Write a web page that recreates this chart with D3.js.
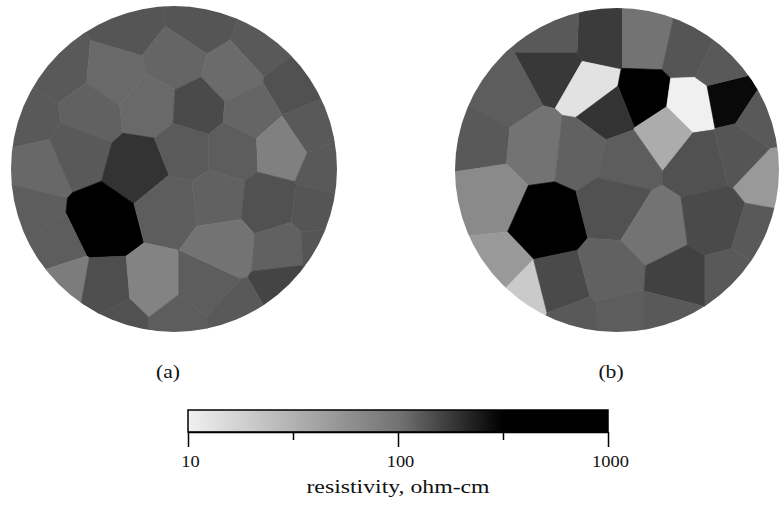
<!DOCTYPE html>
<html>
<head>
<meta charset="utf-8">
<script src="https://cdn.jsdelivr.net/npm/d3@7"></script>
<style>
  body { margin: 0; background: #fff; }
  text { font-family: "Liberation Serif", "DejaVu Serif", serif; fill: #111; }
</style>
</head>
<body>
<div id="chart"></div>
<script>
// measurement sites in wafer coordinates (mm, y up) and resistivity (ohm-cm)
var siteA_x = [-13.5, 8.0, 27.9, -35.0, -18.1, 0.3, 17.8, 37.1, -44.2, -25.8, -7.4, 7.4, 23.3, 42.3, -41.1, -30.4, -10.4, 3.4, 17.8, 33.1, 47.2, -44.8, -21.8, -1.2, 13.5, 28.8, 44.2, -38.0, -34.4, -20.9, -6.7, 9.5, 15.6, 33.1, 45.4, 34.4, -16.6, 1.2, 18.7];
var siteA_y = [44.2, 45.1, 38.0, 30.4, 28.8, 33.4, 28.8, 25.8, 15.0, 17.5, 19.6, 18.7, 17.5, 12.6, 1.2, 5.8, 0.3, 5.8, 5.8, 6.4, 0.3, -14.1, -16.3, -11.0, -9.5, -11.0, -13.2, -24.2, -35.3, -37.7, -36.5, -36.5, -23.3, -24.8, -24.2, -35.6, -46.9, -46.9, -44.8];
var rhoA = [135, 135, 130, 130, 110, 115, 108, 140, 130, 120, 110, 150, 115, 130, 112, 130, 190, 128, 125, 78, 130, 125, 700, 125, 120, 140, 135, 125, 85, 145, 75, 125, 100, 120, 135, 160, 140, 125, 130];

var siteB_x = [-5.2, 8.6, 22.5, -19.1, -19.1, -8.3, 8.0, -2.8, 23.1, 14.8, 34.3, 44.7, -34.6, -42.3, -24.7, -11.4, 2.5, 25.6, 47.2, -39.8, -21.3, -0.6, 11.7, 30.2, 44.1, -37.6, -29.3, -17.0, -2.2, 19.4, 34.9, 0.9, -13.0, 16.4, 31.8, 38.0];
var siteB_y = [40.1, 40.1, 37.0, 40.7, 31.5, 25.3, 22.2, 17.9, 20.1, 11.7, 22.2, 15.4, 23.1, 9.3, 7.7, 6.2, 3.1, 3.1, -2.5, -7.7, -16.0, -10.8, -18.5, -16.0, -20.1, -31.5, -39.5, -36.4, -32.4, -33.9, -33.9, -45.7, -46.9, -45.7, 32.4, 6.2];
var rhoB = [175, 100, 135, 130, 180, 13, 320, 190, 10, 35, 290, 130, 125, 130, 100, 120, 125, 140, 50, 65, 700, 140, 100, 150, 130, 50, 20, 150, 120, 165, 130, 125, 130, 130, 130, 135];

var panelLabels = ["(a)", "(b)"];
var majorTicks = [10, 100, 1000];
var minorTicks = [31.62, 316.2];
var barTitle = "resistivity, ohm-cm";

var width = 779, height = 508;

var svg = d3.select("#chart").append("svg")
  .attr("width", width)
  .attr("height", height);

svg.append("rect").attr("width", width).attr("height", height).attr("fill", "#fff");

var grayLevel = d3.scaleLinear()
  .domain([1, 2, 2.5])
  .range([240, 115, 0])
  .clamp(true);

function shade(v) {
  var g = Math.round(grayLevel(Math.log10(v)));
  return d3.rgb(g, g, g).toString();
}

function drawWafer(id, cx, cy, r, xs, ys, vals, label) {
  var x = d3.scaleLinear().domain([-50, 50]).range([cx - r, cx + r]);
  var y = d3.scaleLinear().domain([-50, 50]).range([cy + r, cy - r]);

  svg.append("clipPath").attr("id", "clip" + id)
    .append("circle")
    .attr("cx", cx)
    .attr("cy", cy)
    .attr("r", r);

  var delaunay = d3.Delaunay.from(d3.range(xs.length), function (i) { return x(xs[i]); }, function (i) { return y(ys[i]); });
  var voronoi = delaunay.voronoi([cx - r - 2, cy - r - 2, cx + r + 2, cy + r + 2]);

  var g = svg.append("g").attr("clip-path", "url(#clip" + id + ")");

  g.selectAll("path")
    .data(vals)
    .enter().append("path")
    .attr("d", function (d, i) { return voronoi.renderCell(i); })
    .attr("fill", function (d) { return shade(d); })
    .attr("stroke", function (d) { return shade(d); })
    .attr("stroke-width", 0.6);

  svg.append("text")
    .attr("transform", "translate(" + (cx - 6) + ",378) scale(1.2,1)")
    .attr("text-anchor", "middle")
    .style("font-size", "18px")
    .text(label);
}

drawWafer("a", 174, 169, 163, siteA_x, siteA_y, rhoA, panelLabels[0]);
drawWafer("b", 617, 170, 162, siteB_x, siteB_y, rhoB, panelLabels[1]);

// colour bar
var barX = d3.scaleLog().domain([10, 1000]).range([188, 608]);
var barTop = 410, barBottom = 432;

var grad = svg.append("defs").append("linearGradient")
  .attr("id", "rampGrad")
  .attr("x1", "0%").attr("x2", "100%")
  .attr("y1", "0%").attr("y2", "0%");

grad.selectAll("stop")
  .data(d3.range(0, 41))
  .enter().append("stop")
  .attr("offset", function (d) { return (d / 40 * 100) + "%"; })
  .attr("stop-color", function (d) { return shade(Math.pow(10, 1 + d / 20)); });

svg.append("rect")
  .attr("x", barX(10))
  .attr("y", barTop)
  .attr("width", barX(1000) - barX(10))
  .attr("height", barBottom - barTop)
  .attr("fill", "url(#rampGrad)")
  .attr("stroke", "#000")
  .attr("stroke-width", 1.5);

var majorAxis = svg.append("g")
  .attr("transform", "translate(0," + barBottom + ")")
  .call(d3.axisBottom(barX).tickValues(majorTicks).tickSize(15).tickSizeOuter(0).tickFormat(d3.format("d")));

majorAxis.select(".domain").attr("stroke-width", 1.5);
majorAxis.selectAll(".tick line").attr("stroke-width", 1.5);
majorAxis.selectAll(".tick text")
  .attr("y", 0)
  .attr("dy", 0)
  .attr("transform", "translate(2,35) scale(1.15,1)")
  .style("font-size", "16px")
  .style("font-family", "Liberation Serif")
  .attr("fill", "#111");

var minorAxis = svg.append("g")
  .attr("transform", "translate(0," + barBottom + ")")
  .call(d3.axisBottom(barX).tickValues(minorTicks).tickSize(8).tickSizeOuter(0).tickFormat(""));

minorAxis.select(".domain").remove();
minorAxis.selectAll(".tick line").attr("stroke-width", 1.5);

svg.append("text")
  .attr("transform", "translate(398,493) scale(1.25,1)")
  .attr("text-anchor", "middle")
  .style("font-size", "19px")
  .text(barTitle);
</script>
</body>
</html>
